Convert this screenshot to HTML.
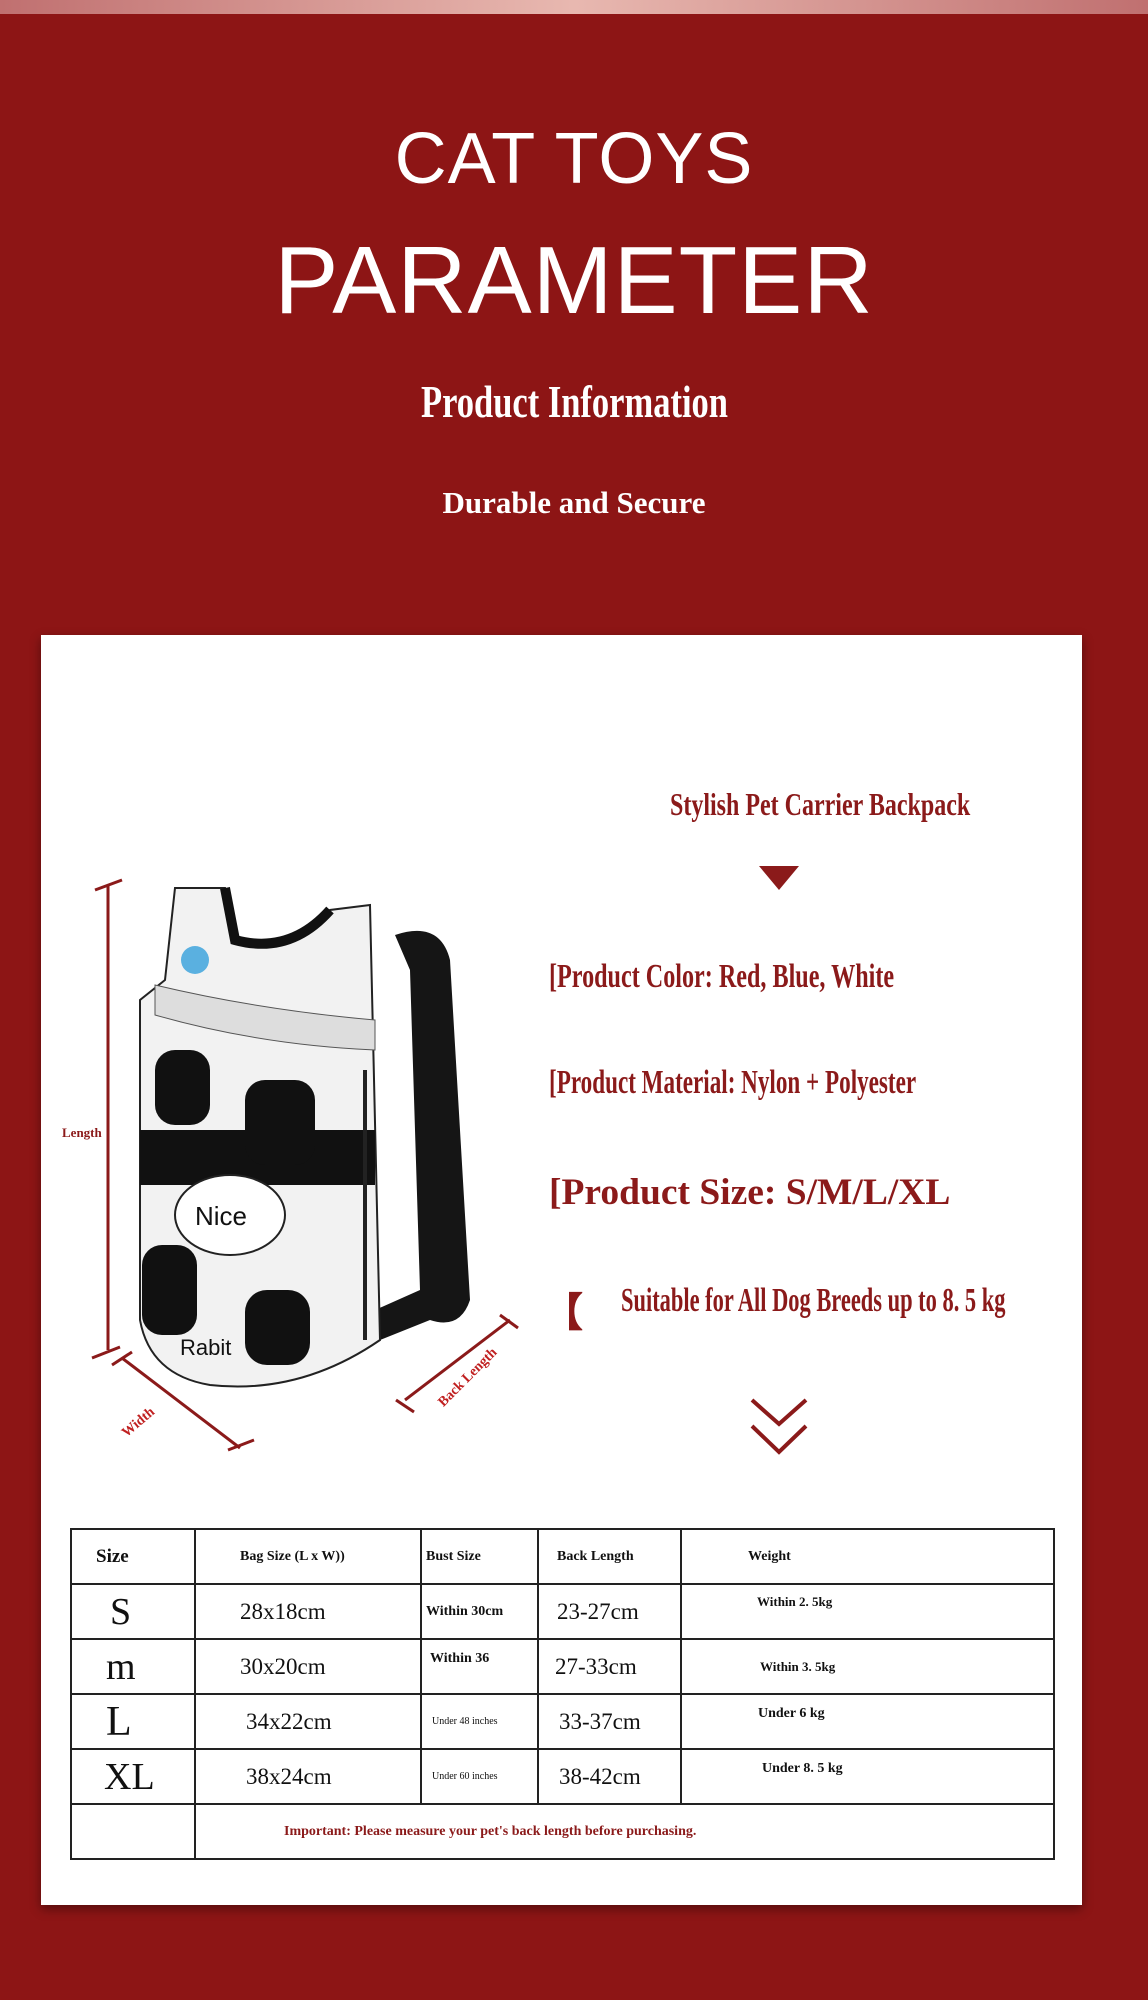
<!DOCTYPE html>
<html><head><meta charset="utf-8"><style>
body{margin:0;width:1148px;height:2000px;background:#8d1515;position:relative;overflow:hidden;font-family:"Liberation Serif",serif}
.a{position:absolute;white-space:nowrap}
.c{left:0;width:1148px;text-align:center}
.sans{font-family:"Liberation Sans",sans-serif;color:#fff}
.card{position:absolute;left:41px;top:635px;width:1041px;height:1270px;background:#fff;box-shadow:0 4px 10px rgba(0,0,0,.4)}
.r{color:#8b1a1a;font-weight:bold;transform-origin:left center}
table{position:absolute;left:70px;top:1528px;border-collapse:collapse;width:985px;table-layout:fixed}
tr{height:55px}
td{border:2px solid #222;padding:0;line-height:1;font-family:"Liberation Serif",serif;color:#111;overflow:hidden;white-space:nowrap}
</style></head><body>
<div style="position:absolute;left:0;top:0;width:1148px;height:14px;background:linear-gradient(90deg,#c07070,#e8b8b0,#c07070)"></div>
<div class="a c sans" style="top:118px;font-size:72px;letter-spacing:1px">CAT TOYS</div>
<div class="a c sans" style="top:226px;font-size:96px;letter-spacing:1px">PARAMETER</div>
<div class="a" style="left:421px;top:375px;font-size:46px;color:#fff;font-weight:bold;transform:scaleX(.75);transform-origin:left center">Product Information</div>
<div class="a c" style="top:485px;font-size:31px;color:#fff;font-weight:bold">Durable and Secure</div>
<div class="card"></div>
<div class="a r" style="left:670px;top:786px;font-size:32px;transform:scaleX(.75)">Stylish Pet Carrier Backpack</div>
<svg class="a" style="left:0;top:0" width="1148" height="2000">
<polygon points="759,866 799,866 779,890" fill="#8b1a1a"/>
<polyline points="752,1400 779,1424 806,1400" fill="none" stroke="#8b1a1a" stroke-width="4"/>
<polyline points="752,1426 779,1452 806,1426" fill="none" stroke="#8b1a1a" stroke-width="4"/>
<g stroke="#8b1a1a" stroke-width="3" fill="none">
<line x1="108" y1="885" x2="108" y2="1350"/><line x1="95" y1="890" x2="122" y2="880"/><line x1="92" y1="1358" x2="120" y2="1347"/>
<line x1="122" y1="1358" x2="240" y2="1448"/><line x1="112" y1="1365" x2="132" y2="1352"/><line x1="228" y1="1450" x2="254" y2="1440"/>
<line x1="405" y1="1400" x2="510" y2="1320"/><line x1="396" y1="1400" x2="414" y2="1412"/><line x1="500" y1="1315" x2="518" y2="1328"/>
</g>
<path d="M395 935 Q440 920 450 960 L470 1300 Q460 1330 430 1320 L380 1340 L375 1310 L420 1290 L410 970 Z" fill="#151515"/>
<path d="M175 888 L225 888 L235 940 Q290 955 330 910 L370 905 L380 1340 Q300 1395 210 1385 Q150 1375 140 1320 L140 1000 L165 980 Z" fill="#f2f2f2" stroke="#222" stroke-width="2"/>
<path d="M225 888 L235 940 Q290 955 330 910" fill="none" stroke="#111" stroke-width="10"/>
<path d="M155 985 Q260 1010 375 1020 L375 1050 Q260 1045 155 1015 Z" fill="#ddd" stroke="#555"/>
<rect x="140" y="1130" width="235" height="55" fill="#111"/>
<rect x="155" y="1050" width="55" height="75" rx="20" fill="#111"/>
<rect x="245" y="1080" width="70" height="85" rx="20" fill="#111"/>
<rect x="142" y="1245" width="55" height="90" rx="20" fill="#111"/>
<rect x="245" y="1290" width="65" height="75" rx="22" fill="#111"/>
<line x1="365" y1="1070" x2="365" y2="1340" stroke="#222" stroke-width="4"/>
<ellipse cx="230" cy="1215" rx="55" ry="40" fill="#fff" stroke="#222" stroke-width="2"/>
<text x="195" y="1225" font-size="26" font-family="Liberation Sans" fill="#111">Nice</text>
<text x="180" y="1355" font-size="22" font-family="Liberation Sans" fill="#111">Rabit</text>
<circle cx="195" cy="960" r="14" fill="#5ab0e0"/>
</svg>
<div class="a" style="left:62px;top:1125px;font-size:13px;color:#8b1a1a;font-weight:bold">Length</div>
<div class="a" style="left:120px;top:1415px;font-size:14px;color:#c02020;font-weight:bold;transform:rotate(-40deg)">Width</div>
<div class="a" style="left:430px;top:1370px;font-size:14px;color:#c02020;font-weight:bold;transform:rotate(-45deg)">Back Length</div>
<div class="a r" style="left:549px;top:958px;font-size:34px;transform:scaleX(.71)">[Product Color: Red, Blue, White</div>
<div class="a r" style="left:549px;top:1064px;font-size:34px;transform:scaleX(.68)">[Product Material: Nylon + Polyester</div>
<div class="a r" style="left:549px;top:1171px;font-size:37.5px">[Product Size: S/M/L/XL</div>
<div class="a r" style="left:543px;top:1280px;font-size:40px">【</div>
<div class="a r" style="left:621px;top:1282px;font-size:34px;transform:scaleX(.66)">Suitable for All Dog Breeds up to 8. 5 kg</div>
<table>
<colgroup><col style="width:124px"><col style="width:226px"><col style="width:117px"><col style="width:143px"><col></colgroup>
<tr style="font-weight:bold"><td style="padding-left:24px;font-size:19px">Size</td><td style="padding-left:44px;font-size:14px">Bag Size (L x W))</td><td style="padding-left:4px;font-size:14px">Bust Size</td><td style="padding-left:18px;font-size:14px">Back Length</td><td style="padding-left:66px;font-size:14px">Weight</td></tr>
<tr><td style="padding-left:38px;font-size:38px">S</td><td style="padding-left:44px;font-size:23px">28x18cm</td><td style="font-size:14px;font-weight:bold;padding-left:4px">Within 30cm</td><td style="padding-left:18px;font-size:23px">23-27cm</td><td style="padding-left:75px;font-size:13px;font-weight:bold;vertical-align:top;padding-top:10px">Within 2. 5kg</td></tr>
<tr><td style="padding-left:34px;font-size:38px">m</td><td style="padding-left:44px;font-size:23px">30x20cm</td><td style="font-size:14px;font-weight:bold;padding-left:8px;vertical-align:top;padding-top:12px">Within 36</td><td style="padding-left:16px;font-size:23px">27-33cm</td><td style="padding-left:78px;font-size:13px;font-weight:bold">Within 3. 5kg</td></tr>
<tr><td style="padding-left:34px;font-size:42px">L</td><td style="padding-left:50px;font-size:23px">34x22cm</td><td style="font-size:10px;padding-left:10px">Under 48 inches</td><td style="padding-left:20px;font-size:23px">33-37cm</td><td style="padding-left:76px;font-size:14px;font-weight:bold;vertical-align:top;padding-top:12px">Under 6 kg</td></tr>
<tr><td style="padding-left:32px;font-size:38px">XL</td><td style="padding-left:50px;font-size:23px">38x24cm</td><td style="font-size:10px;padding-left:10px">Under 60 inches</td><td style="padding-left:20px;font-size:23px">38-42cm</td><td style="padding-left:80px;font-size:14px;font-weight:bold;vertical-align:top;padding-top:12px">Under 8. 5 kg</td></tr>
<tr><td></td><td colspan="4" style="padding-left:88px;font-size:14px;font-weight:bold;color:#8b1a1a">Important: Please measure your pet's back length before purchasing.</td></tr>
</table>
</body></html>
